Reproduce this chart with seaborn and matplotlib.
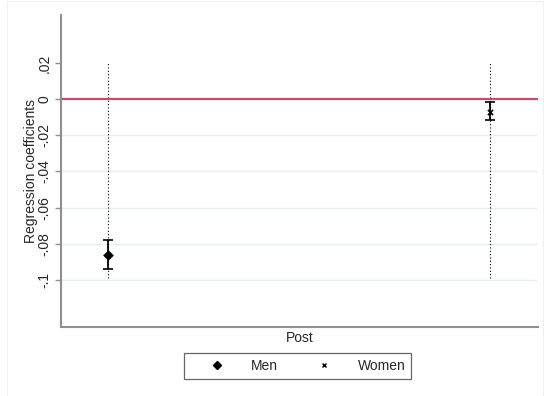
import matplotlib
matplotlib.use("Agg")
import matplotlib.pyplot as plt
import seaborn as sns
import pandas as pd
from matplotlib.lines import Line2D
from matplotlib.patches import Rectangle

groups = ["Men", "Women"]
positions = [0, 1]
coefs = [-0.0862, -0.0071]
ci_low = [-0.0940, -0.0118]
ci_high = [-0.0780, -0.0018]
dotted_low = [-0.099, -0.099]
dotted_high = [0.020, 0.020]
yticks = [0.02, 0, -0.02, -0.04, -0.06, -0.08, -0.1]
yticklabels = [".02", "0", "-.02", "-.04", "-.06", "-.08", "-.1"]
grid_levels = [-0.02, -0.04, -0.06, -0.08, -0.1]

df = pd.DataFrame({"group": groups, "x": positions, "coef": coefs,
                   "lo": ci_low, "hi": ci_high})

sns.set_theme(style="white")
plt.rcParams["font.family"] = ["Liberation Sans", "DejaVu Sans"]
FS = 10

fig = plt.figure(figsize=(5.44, 3.96), dpi=100)
fig.patches.append(Rectangle((7/544, 0.0), 1 - 7/544 - 0.001, 1 - 1/396, transform=fig.transFigure,
                             fill=False, edgecolor="#f0f0f0", linewidth=0.8, zorder=0))
ax = fig.add_axes([61/544, 69/396, 477/544, 312/396])

for g in grid_levels:
    ax.axhline(g, color="#e8f0f1", linewidth=1.0, zorder=0)

ax.vlines(df["x"], dotted_low, dotted_high, colors="black", linestyles=(0, (1, 2)),
          linewidth=0.8, zorder=1)
ax.axhline(0, color="#c94a69", linewidth=1.6, zorder=2)

ax.errorbar(df["x"], df["coef"], yerr=[df["coef"] - df["lo"], df["hi"] - df["coef"]],
            fmt="none", ecolor="black", elinewidth=1.3, capsize=3.5, capthick=1.2, zorder=3)

sns.scatterplot(data=df[df["group"] == "Men"], x="x", y="coef", marker="D", color="black",
                s=30, ax=ax, legend=False, zorder=4, linewidth=0)
sns.scatterplot(data=df[df["group"] == "Women"], x="x", y="coef", marker="x", color="black",
                s=14, ax=ax, legend=False, zorder=4, linewidth=1.2)

ax.set_xlim(-0.123, 1.126)
ax.set_ylim(-0.126, 0.0465)
ax.set_yticks(yticks)
ax.set_yticklabels(yticklabels, rotation=90, va="center", fontsize=FS)
ax.set_xticks([])
ax.set_xlabel("Post", fontsize=FS, labelpad=3)
ax.set_ylabel("Regression coefficients", fontsize=FS, labelpad=-0.5)
ax.tick_params(axis="y", length=4, width=1, color="#909090", pad=3, left=True)

for side in ["top", "right"]:
    ax.spines[side].set_visible(False)
for side in ["left", "bottom"]:
    ax.spines[side].set_color("#909090")
    ax.spines[side].set_linewidth(1.5)

handles = [Line2D([], [], marker="D", color="black", linestyle="none", markersize=4.5),
           Line2D([], [], marker="x", color="black", linestyle="none", markersize=3.5, markeredgewidth=1)]
leg = fig.legend(handles, groups, loc="center", bbox_to_anchor=(297.5/544, 1 - 366/396), ncol=2,
                 frameon=True, fancybox=False, edgecolor="#404040", fontsize=FS,
                 handletextpad=0.5, columnspacing=1.37, borderpad=0.4, handlelength=3.9)
leg.get_frame().set_linewidth(0.9)

fig.savefig("out.png", dpi=100, facecolor="white")
